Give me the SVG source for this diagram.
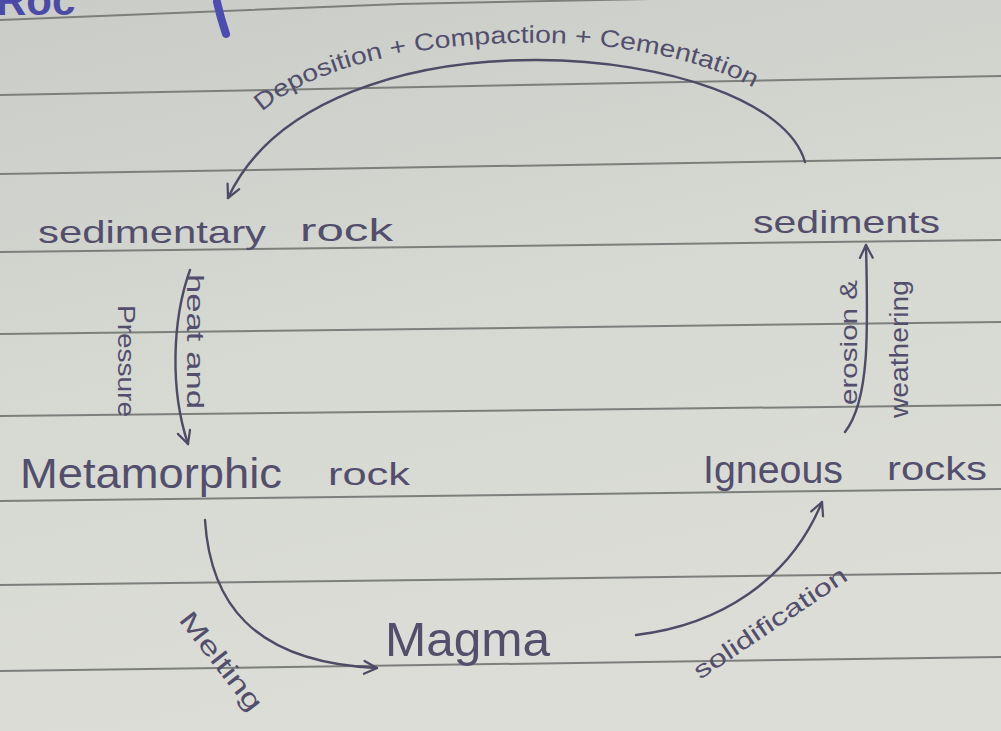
<svg xmlns="http://www.w3.org/2000/svg" width="1001" height="731" viewBox="0 0 1001 731">
<defs>
<linearGradient id="paper" x1="0" y1="0" x2="0.3" y2="1">
<stop offset="0" stop-color="#c9ccc7"/>
<stop offset="0.5" stop-color="#d6d8d2"/>
<stop offset="1" stop-color="#dcddd7"/>
</linearGradient>
<marker id="arrow" viewBox="0 0 10 10" refX="9" refY="5" markerWidth="16" markerHeight="16" markerUnits="userSpaceOnUse" orient="auto">
<path d="M1,1 L9,5 L1,9" fill="none" stroke="#4f4a66" stroke-width="1.4" stroke-linecap="round" stroke-linejoin="round"/>
</marker>
<path id="arcText" d="M262,112 C350,30 650,15 770,98"/>
</defs>
<style>
.rule{stroke:#7c7f7b;stroke-width:2;fill:none}
.ink{font-family:"Liberation Sans","DejaVu Sans",sans-serif;fill:#534e6c}
.conn{fill:none;stroke:#4f4a66;stroke-width:2.4;stroke-linecap:round}
</style>
<rect width="1001" height="731" fill="url(#paper)"/>
<g id="paper-lines">
<path class="rule" d="M0,20 L400,4 L1001,-8"/>
<path class="rule" d="M0,95 L1001,76"/>
<path class="rule" d="M0,174 L1001,158"/>
<path class="rule" d="M0,252 L1001,240"/>
<path class="rule" d="M0,334 L1001,322"/>
<path class="rule" d="M0,416 L1001,405"/>
<path class="rule" d="M0,501 L1001,489"/>
<path class="rule" d="M0,585 L1001,573"/>
<path class="rule" d="M0,671 L1001,657"/>
</g>
<g id="heading-fragment">
<text x="-4" y="15" font-family="Liberation Sans, sans-serif" font-size="42" font-weight="bold" fill="#4b4aa6">Roc</text>
<path d="M217,2 L221,18 L226,34" stroke="#4b4db0" stroke-width="8" stroke-linecap="round" fill="none"/>
</g>
<g id="connectors">
<path class="conn" d="M805,162 C770,40 320,0 228,198" marker-end="url(#arrow)"/>
<path class="conn" d="M190,270 C172,320 170,390 188,444" marker-end="url(#arrow)"/>
<path class="conn" d="M205,520 C210,600 250,662 377,668" marker-end="url(#arrow)"/>
<path class="conn" d="M636,635 C720,625 790,580 822,502" marker-end="url(#arrow)"/>
<path class="conn" d="M845,432 C870,400 868,330 866,245" marker-end="url(#arrow)"/>
</g>
<g id="edge-labels">
<text class="ink" font-size="24" textLength="512" lengthAdjust="spacingAndGlyphs"><textPath href="#arcText">Deposition + Compaction + Cementation</textPath></text>
<text class="ink" font-size="24" textLength="135" lengthAdjust="spacingAndGlyphs" transform="translate(187,274) rotate(90)">heat and</text>
<text class="ink" font-size="24" textLength="112" lengthAdjust="spacingAndGlyphs" transform="translate(118,305) rotate(90)">Pressure</text>
<text class="ink" font-size="24" textLength="125" lengthAdjust="spacingAndGlyphs" transform="translate(857,405) rotate(-90)">erosion &amp;</text>
<text class="ink" font-size="26" textLength="138" lengthAdjust="spacingAndGlyphs" transform="translate(908,418) rotate(-90)">weathering</text>
<text class="ink" font-size="26" textLength="118" lengthAdjust="spacingAndGlyphs" transform="translate(178,620) rotate(52)">Melting</text>
<text class="ink" font-size="24" textLength="180" lengthAdjust="spacingAndGlyphs" transform="translate(700,680) rotate(-34)">solidification</text>
</g>
<g id="sedimentary-rock">
<text class="ink" x="38" y="243" font-size="32" textLength="228" lengthAdjust="spacingAndGlyphs">sedimentary</text>
<text class="ink" x="300" y="241" font-size="32" textLength="93" lengthAdjust="spacingAndGlyphs">rock</text>
</g>
<g id="sediments">
<text class="ink" x="753" y="233" font-size="32" textLength="187" lengthAdjust="spacingAndGlyphs">sediments</text>
</g>
<g id="metamorphic-rock">
<text class="ink" x="20" y="488" font-size="42" textLength="262" lengthAdjust="spacingAndGlyphs">Metamorphic</text>
<text class="ink" x="328" y="485" font-size="32" textLength="82" lengthAdjust="spacingAndGlyphs">rock</text>
</g>
<g id="igneous-rocks">
<text class="ink" x="703" y="483" font-size="38" textLength="140" lengthAdjust="spacingAndGlyphs">Igneous</text>
<text class="ink" x="887" y="480" font-size="34" textLength="100" lengthAdjust="spacingAndGlyphs">rocks</text>
</g>
<g id="magma">
<text class="ink" x="385" y="656" font-size="48" textLength="165" lengthAdjust="spacingAndGlyphs">Magma</text>
</g>
</svg>
